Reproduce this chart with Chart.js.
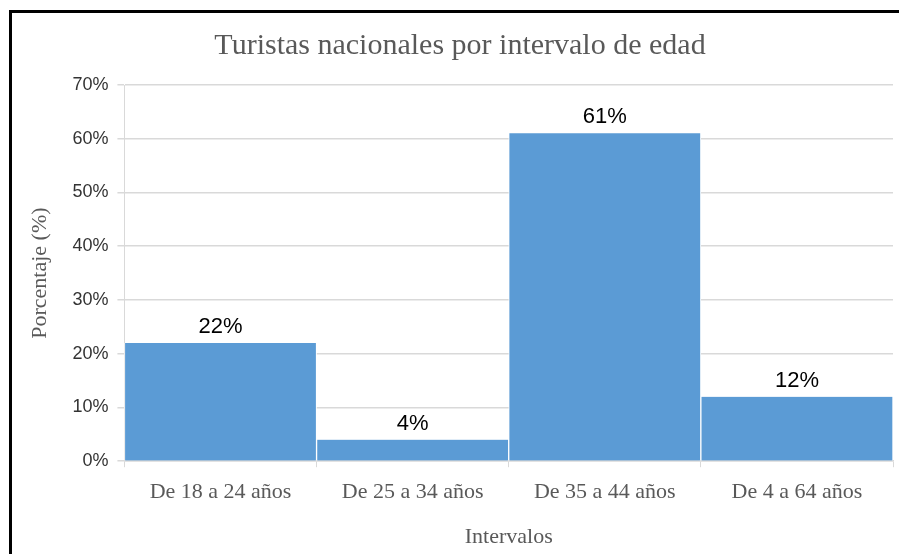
<!DOCTYPE html>
<html>
<head>
<meta charset="utf-8">
<script src="https://cdn.jsdelivr.net/npm/chart.js@4.4.1/dist/chart.umd.min.js"></script>
<style>
  html, body { margin: 0; padding: 0; background: #fff; }
  #wrap { position: relative; width: 899px; height: 554px; }
  #frame { position: absolute; left: 9px; top: 10px; width: 900px; height: 560px;
           border-left: 3px solid #000; border-top: 3px solid #000; pointer-events: none; }
</style>
</head>
<body>
<div id="wrap">
  <canvas id="myChart" width="899" height="554"></canvas>
  <div id="frame"></div>
</div>
<script>
// data
let categories = ['De 18 a 24 años', 'De 25 a 34 años', 'De 35 a 44 años', 'De 4 a 64 años'];
let percentages = [22, 4, 61, 12];
let yTicks = [0, 10, 20, 30, 40, 50, 60, 70];

let serif = "'Liberation Serif', 'Times New Roman', serif";
let sans = "'Liberation Sans', Arial, sans-serif";

// draws the % value above every bar
let valueLabels = {
    id: 'valueLabels',
    afterDatasetsDraw(chart) {
        let ctx = chart.ctx;
        let meta = chart.getDatasetMeta(0);
        ctx.save();
        ctx.font = '22px ' + sans;
        ctx.fillStyle = '#000';
        ctx.textAlign = 'center';
        ctx.textBaseline = 'bottom';
        meta.data.forEach((bar, i) => {
            ctx.fillText(percentages[i] + '%', bar.x, bar.y - 5);
        });
        ctx.restore();
    }
};

let ctx = document.getElementById('myChart').getContext('2d');
let chart = new Chart(ctx, {
    type: 'bar',
    data: {
        labels: categories,
        datasets: [{
            data: percentages,
            backgroundColor: '#5B9BD5',
            borderColor: '#ffffff',
            borderWidth: {left: 1, right: 1, top: 0, bottom: 0},
            barPercentage: 1,
            categoryPercentage: 1
        }]
    },
    options: {
        responsive: false,
        animation: false,
        layout: {padding: {left: 27, right: 6, top: 28, bottom: 4}},
        plugins: {
            legend: {display: false},
            tooltip: {enabled: false},
            title: {
                display: true,
                text: 'Turistas nacionales por intervalo de edad',
                color: '#595959',
                font: {family: serif, size: 30, weight: 'normal'},
                padding: {top: 0, bottom: 21}
            }
        },
        scales: {
            x: {
                grid: {display: true, offset: true, drawOnChartArea: false, drawTicks: true, tickLength: 6, color: '#d9d9d9'},
                border: {color: '#d9d9d9', width: 1.5},
                ticks: {color: '#595959', font: {family: serif, size: 22}, padding: 12, maxRotation: 0},
                title: {display: true, text: 'Intervalos', color: '#595959',
                        font: {family: serif, size: 22}, padding: {top: 6, bottom: 0}}
            },
            y: {
                min: 0,
                max: 70,
                afterBuildTicks: (scale) => { scale.ticks = yTicks.map(v => ({value: v})); },
                grid: {color: '#d9d9d9', lineWidth: 1.5, tickLength: 7},
                border: {color: '#d9d9d9', width: 1},
                ticks: {color: '#333333', font: {family: sans, size: 18}, padding: 9,
                        callback: (v) => v + '%'},
                title: {display: true, text: 'Porcentaje (%)', color: '#595959',
                        font: {family: serif, size: 22}, padding: {top: 0, bottom: 10}}
            }
        }
    },
    plugins: [valueLabels]
});
</script>
</body>
</html>
